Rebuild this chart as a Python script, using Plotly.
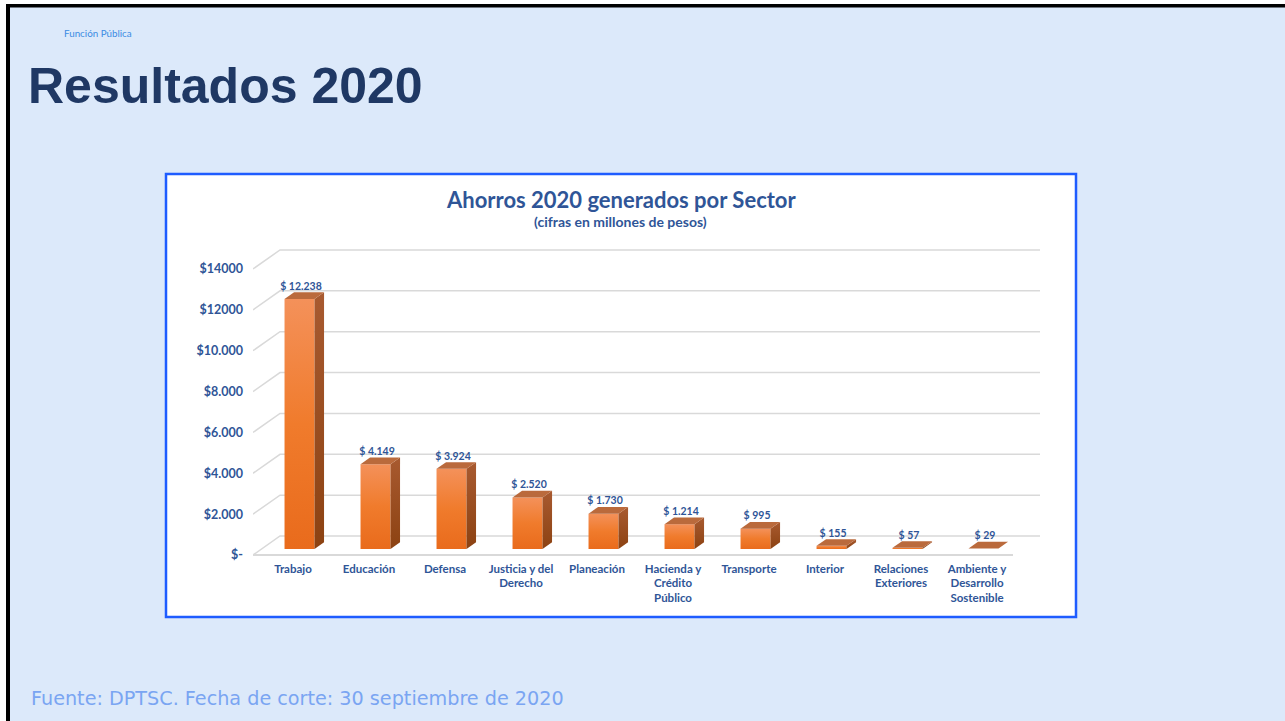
import plotly.graph_objects as go

# ---------------- data ----------------
categories = ["Trabajo", "Educación", "Defensa", "Justicia y del<br>Derecho", "Planeación",
              "Hacienda y<br>Crédito<br>Público", "Transporte", "Interior",
              "Relaciones<br>Exteriores", "Ambiente y<br>Desarrollo<br>Sostenible"]
values = [12238, 4149, 3924, 2520, 1730, 1214, 995, 155, 57, 29]
value_labels = ["$ 12.238", "$ 4.149", "$ 3.924", "$ 2.520", "$ 1.730", "$ 1.214",
                "$ 995", "$ 155", "$ 57", "$ 29"]
y_tickvals = [0, 2000, 4000, 6000, 8000, 10000, 12000, 14000]
y_ticktext = ["$-", "$2.000", "$4.000", "$6.000", "$8.000", "$10.000", "$12000", "$14000"]

# ---------------- layout geometry (pixels) ----------------
W, H = 1285, 721
L_PX, R_PX, T_PX, B_PX = 253, 1040, 240, 563
PLOT_W, PLOT_H = R_PX - L_PX, B_PX - T_PX
PX_CAT = 76.0           # px per category
PX_UNIT = 0.02043       # px per value unit
ZERO_PX = 555           # pixel row of value 0 (front plane)

x_min = -0.5
x_max = x_min + PLOT_W / PX_CAT
y_max = (ZERO_PX - T_PX) / PX_UNIT
y_min = -(B_PX - ZERO_PX) / PX_UNIT

DX = 27 / PX_CAT        # depth of the 3D box in x units
DY = 19 / PX_UNIT       # depth of the 3D box in y units
F0, F1 = 0.316, 0.668   # bar front / back position inside depth
BW = 30 / PX_CAT        # bar width

def xp(px):
    return (px - L_PX) / PLOT_W

def yp(py):
    return (B_PX - py) / PLOT_H

TXT = "#2F5597"
FONT = "Lato, Carlito, 'Open Sans', sans-serif"

fig = go.Figure()

# back-wall gridlines + diagonal side lines
gx, gy = [], []
for t in y_tickvals:
    gx += [x_min, x_min + DX, 9.5 + DX, None]
    gy += [t, t + DY, t + DY, None]
fig.add_trace(go.Scatter(x=gx, y=gy, mode="lines", line=dict(color="#D9D9D9", width=1.5),
                         hoverinfo="skip", showlegend=False))
# front floor edge
fig.add_trace(go.Scatter(x=[x_min, 9.5], y=[0, 0], mode="lines",
                         line=dict(color="#D9D9D9", width=2), hoverinfo="skip", showlegend=False))

dd = F1 - F0
lab_x, lab_y = [], []
for i, v in enumerate(values):
    xl = i - BW / 2 + F0 * DX
    xr = i + BW / 2 + F0 * DX
    yb = F0 * DY
    yt = yb + v
    # front face
    fig.add_trace(go.Scatter(
        x=[xl, xr, xr, xl, xl], y=[yb, yb, yt, yt, yb], mode="lines", fill="toself",
        line=dict(width=0, color="rgba(0,0,0,0)"),
        fillgradient=dict(type="vertical",
                          colorscale=[[0, "#E96B1C"], [0.5, "#F07B2C"], [1, "#F4915A"]]),
        hoverinfo="skip", showlegend=False))
    # side face
    fig.add_trace(go.Scatter(
        x=[xr, xr + dd * DX, xr + dd * DX, xr, xr],
        y=[yb, yb + dd * DY, yt + dd * DY, yt, yb], mode="lines", fill="toself",
        line=dict(width=0, color="rgba(0,0,0,0)"),
        fillgradient=dict(type="vertical", colorscale=[[0, "#8C4212"], [1, "#A85A30"]]),
        hoverinfo="skip", showlegend=False))
    # top face
    fig.add_trace(go.Scatter(
        x=[xl, xr, xr + dd * DX, xl + dd * DX, xl],
        y=[yt, yt, yt + dd * DY, yt + dd * DY, yt], mode="lines", fill="toself",
        line=dict(width=0, color="rgba(0,0,0,0)"), fillcolor="#BA6A3C",
        hoverinfo="skip", showlegend=False))
    lab_x.append(i + F0 * DX + 1.5 / PX_CAT)
    lab_y.append(yt + dd * DY)

fig.add_trace(go.Scatter(x=lab_x, y=lab_y, mode="text", text=value_labels,
                         textposition="top center", cliponaxis=False,
                         textfont=dict(family=FONT, size=10.5, color=TXT, weight="bold"),
                         hoverinfo="skip", showlegend=False))

shapes = [
    # white chart box with blue border
    dict(type="rect", xref="paper", yref="paper", x0=xp(166), x1=xp(1076), y0=yp(617), y1=yp(174),
         fillcolor="white", line=dict(color="#1E5CFF", width=2.5), layer="below"),
    # slide outer white strips and black border lines
    dict(type="rect", xref="paper", yref="paper", x0=xp(0), x1=xp(6), y0=yp(721), y1=yp(0),
         fillcolor="white", line=dict(width=0), layer="below"),
    dict(type="rect", xref="paper", yref="paper", x0=xp(0), x1=xp(1285), y0=yp(4), y1=yp(0),
         fillcolor="white", line=dict(width=0), layer="below"),
    dict(type="rect", xref="paper", yref="paper", x0=xp(6), x1=xp(10), y0=yp(721), y1=yp(4),
         fillcolor="black", line=dict(width=0), layer="below"),
    dict(type="rect", xref="paper", yref="paper", x0=xp(6), x1=xp(1285), y0=yp(7.5), y1=yp(4),
         fillcolor="black", line=dict(width=0), layer="below"),
]

annotations = [
    dict(text="Función Pública", x=xp(62), y=yp(33), xanchor="left", yanchor="middle",
         font=dict(family=FONT, size=9.8, color="#3B8BE3")),
    dict(text="<b>Resultados 2020</b>", x=xp(26), y=yp(86), xanchor="left", yanchor="middle",
         font=dict(family="'Liberation Sans', Arial, sans-serif", size=50, color="#1F3864")),
    dict(text="<b>Ahorros 2020 generados por Sector</b>", x=xp(621), y=yp(200),
         xanchor="center", yanchor="middle", font=dict(family=FONT, size=22, color=TXT)),
    dict(text="<b>(cifras en millones de pesos)</b>", x=xp(620), y=yp(221),
         xanchor="center", yanchor="middle", font=dict(family=FONT, size=14, color=TXT)),
    dict(text="Fuente: DPTSC. Fecha de corte: 30 septiembre de 2020", x=xp(29), y=yp(698),
         xanchor="left", yanchor="middle",
         font=dict(family="'DejaVu Sans', sans-serif", size=19.2, color="#7AA5F2")),
]
for a in annotations:
    a.update(xref="paper", yref="paper", showarrow=False)

fig.update_layout(
    width=W, height=H,
    margin=dict(l=L_PX, r=W - R_PX, t=T_PX, b=H - B_PX, pad=0),
    paper_bgcolor="#DCE9FA", plot_bgcolor="rgba(0,0,0,0)",
    showlegend=False, shapes=shapes, annotations=annotations,
    xaxis=dict(range=[x_min, x_max], tickvals=list(range(len(categories))), ticktext=categories,
               showgrid=False, zeroline=False, showline=False, ticks="",
               ticklabelshift=2, ticklabelstandoff=-3,
               tickfont=dict(family=FONT, size=11.5, color=TXT, weight="bold"), fixedrange=True),
    yaxis=dict(range=[y_min, y_max], tickvals=y_tickvals, ticktext=y_ticktext,
               showgrid=False, zeroline=False, showline=False, ticks="",
               ticklabelstandoff=9,
               tickfont=dict(family=FONT, size=12.5, color=TXT, weight="bold"), fixedrange=True),
)

fig.write_html("out.html", config={"displayModeBar": False, "staticPlot": True},
               post_script="document.body.style.margin='0';document.body.style.overflow='hidden';")
